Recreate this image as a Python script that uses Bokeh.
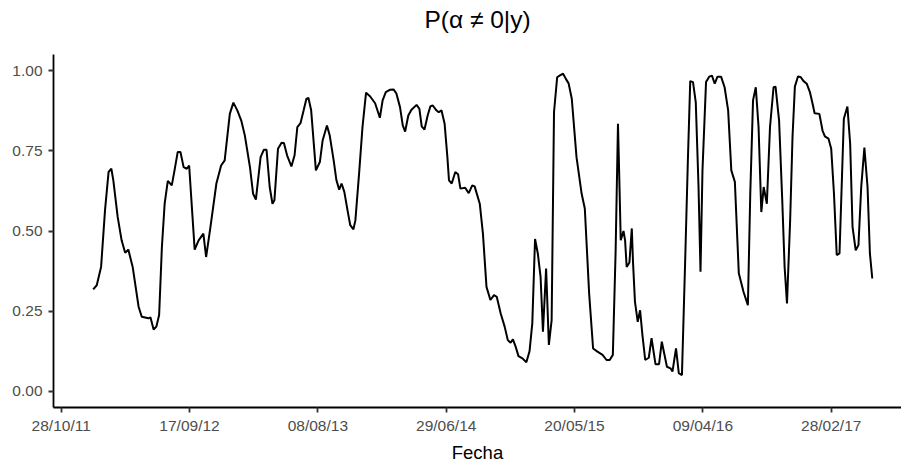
import pandas as pd
from datetime import datetime
from bokeh.plotting import figure
from bokeh.models import (Range1d, FixedTicker, DatetimeTickFormatter,
                          CustomJSTickFormatter, LinearAxis)
from bokeh.embed import file_html
from bokeh.resources import INLINE

# Dates (vertices of the series) and posterior probability P(alpha != 0 | y)
fechas = [
    "2012-01-17", "2012-01-26", "2012-02-06", "2012-02-16", "2012-02-25", "2012-03-03",
    "2012-03-08", "2012-03-19", "2012-03-29", "2012-04-07", "2012-04-15", "2012-04-26",
    "2012-05-11", "2012-05-19", "2012-06-05", "2012-06-10", "2012-06-18", "2012-06-25",
    "2012-07-02", "2012-07-09", "2012-07-16", "2012-07-24", "2012-08-03", "2012-08-10",
    "2012-08-18", "2012-08-25", "2012-09-02", "2012-09-10", "2012-09-16", "2012-09-30",
    "2012-10-10", "2012-10-22", "2012-10-29", "2012-11-09", "2012-11-24", "2012-12-06",
    "2012-12-15", "2012-12-28", "2013-01-06", "2013-01-16", "2013-01-26", "2013-02-04",
    "2013-02-17", "2013-02-25", "2013-03-04", "2013-03-16", "2013-03-24", "2013-03-31",
    "2013-04-08", "2013-04-15", "2013-04-20", "2013-04-29", "2013-05-08", "2013-05-14",
    "2013-05-22", "2013-06-02", "2013-06-10", "2013-06-17", "2013-06-25", "2013-07-03",
    "2013-07-10", "2013-07-15", "2013-07-22", "2013-08-03", "2013-08-13", "2013-08-20",
    "2013-08-31", "2013-09-07", "2013-09-17", "2013-09-24", "2013-10-01", "2013-10-07",
    "2013-10-14", "2013-10-22", "2013-10-29", "2013-11-06", "2013-11-11", "2013-11-21",
    "2013-11-29", "2013-12-08", "2013-12-18", "2013-12-31", "2014-01-12", "2014-01-19",
    "2014-01-27", "2014-02-06", "2014-02-16", "2014-02-23", "2014-03-04", "2014-03-11",
    "2014-03-17", "2014-03-25", "2014-04-02", "2014-04-15", "2014-04-22", "2014-04-28",
    "2014-05-05", "2014-05-13", "2014-05-20", "2014-05-26", "2014-06-04", "2014-06-10",
    "2014-06-17", "2014-06-25", "2014-07-02", "2014-07-06", "2014-07-13", "2014-07-22",
    "2014-07-29", "2014-08-04", "2014-08-16", "2014-08-25", "2014-09-03", "2014-09-09",
    "2014-09-22", "2014-09-30", "2014-10-09", "2014-10-19", "2014-10-28", "2014-11-04",
    "2014-11-14", "2014-11-24", "2014-12-02", "2014-12-09", "2014-12-15", "2014-12-22",
    "2014-12-29", "2015-01-08", "2015-01-18", "2015-01-26", "2015-02-02", "2015-02-09",
    "2015-02-16", "2015-02-23", "2015-03-01", "2015-03-09", "2015-03-16", "2015-03-23",
    "2015-03-29", "2015-04-06", "2015-04-13", "2015-04-21", "2015-04-28", "2015-05-05",
    "2015-05-13", "2015-05-25", "2015-06-07", "2015-06-15", "2015-06-26", "2015-07-06",
    "2015-07-17", "2015-07-30", "2015-08-09", "2015-08-17", "2015-08-25", "2015-09-01",
    "2015-09-07", "2015-09-11", "2015-09-14", "2015-09-21", "2015-09-25", "2015-09-29",
    "2015-10-06", "2015-10-12", "2015-10-15", "2015-10-20", "2015-10-27", "2015-11-02",
    "2015-11-08", "2015-11-15", "2015-11-24", "2015-12-01", "2015-12-11", "2015-12-20",
    "2015-12-27", "2016-01-09", "2016-01-18", "2016-01-23", "2016-02-01", "2016-02-08",
    "2016-02-16", "2016-02-24", "2016-03-02", "2016-03-08", "2016-03-15", "2016-03-22",
    "2016-03-29", "2016-04-03", "2016-04-08", "2016-04-17", "2016-04-25", "2016-05-02",
    "2016-05-09", "2016-05-16", "2016-05-25", "2016-06-03", "2016-06-12", "2016-06-20",
    "2016-06-29", "2016-07-09", "2016-07-21", "2016-08-01", "2016-08-07", "2016-08-14",
    "2016-08-21", "2016-08-28", "2016-09-04", "2016-09-10", "2016-09-18", "2016-09-26",
    "2016-10-05", "2016-10-10", "2016-10-19", "2016-10-27", "2016-11-02", "2016-11-08",
    "2016-11-16", "2016-11-22", "2016-11-28", "2016-12-06", "2016-12-13", "2016-12-20",
    "2016-12-28", "2017-01-05", "2017-01-11", "2017-01-17", "2017-01-29", "2017-02-06",
    "2017-02-12", "2017-02-21", "2017-02-28", "2017-03-07", "2017-03-14", "2017-03-21",
    "2017-03-27", "2017-04-01", "2017-04-10", "2017-04-17", "2017-04-23", "2017-05-01",
    "2017-05-08", "2017-05-15", "2017-05-23", "2017-05-31", "2017-06-06", "2017-06-12",
]
prob = [
    0.318, 0.331, 0.388, 0.565, 0.684, 0.694,
    0.658, 0.544, 0.471, 0.432, 0.442, 0.388,
    0.264, 0.233, 0.228, 0.231, 0.193, 0.202,
    0.238, 0.450, 0.585, 0.656, 0.642, 0.689,
    0.746, 0.746, 0.699, 0.694, 0.704, 0.442,
    0.471, 0.492, 0.419, 0.513, 0.648, 0.704,
    0.720, 0.865, 0.900, 0.876, 0.844, 0.798,
    0.699, 0.616, 0.598, 0.730, 0.753, 0.753,
    0.637, 0.585, 0.596, 0.756, 0.775, 0.774,
    0.736, 0.701, 0.736, 0.824, 0.836, 0.876,
    0.912, 0.915, 0.876, 0.689, 0.715, 0.782,
    0.829, 0.798, 0.720, 0.658, 0.629, 0.648,
    0.622, 0.565, 0.518, 0.505, 0.533, 0.689,
    0.824, 0.931, 0.920, 0.898, 0.853, 0.907,
    0.933, 0.940, 0.941, 0.928, 0.886, 0.829,
    0.810, 0.860, 0.878, 0.893, 0.881, 0.826,
    0.816, 0.860, 0.889, 0.891, 0.876, 0.870,
    0.876, 0.834, 0.730, 0.658, 0.648, 0.684,
    0.677, 0.632, 0.635, 0.618, 0.642, 0.639,
    0.585, 0.492, 0.326, 0.285, 0.300, 0.295,
    0.243, 0.202, 0.160, 0.152, 0.162, 0.139,
    0.110, 0.103, 0.091, 0.125, 0.212, 0.475,
    0.430, 0.357, 0.186, 0.383, 0.145, 0.222,
    0.870, 0.979, 0.985, 0.990, 0.974, 0.960,
    0.912, 0.730, 0.616, 0.570, 0.305, 0.134,
    0.124, 0.114, 0.098, 0.098, 0.114, 0.435,
    0.834, 0.630, 0.471, 0.500, 0.471, 0.388,
    0.402, 0.508, 0.405, 0.280, 0.217, 0.253,
    0.175, 0.098, 0.105, 0.166, 0.085, 0.085,
    0.155, 0.077, 0.072, 0.062, 0.134, 0.057,
    0.051, 0.400, 0.720, 0.967, 0.964, 0.901,
    0.637, 0.373, 0.689, 0.964, 0.981, 0.984,
    0.959, 0.981, 0.981, 0.948, 0.876, 0.689,
    0.653, 0.368, 0.310, 0.269, 0.616, 0.907,
    0.948, 0.824, 0.559, 0.637, 0.585, 0.824,
    0.948, 0.950, 0.844, 0.596, 0.388, 0.274,
    0.533, 0.793, 0.950, 0.982, 0.979, 0.967,
    0.959, 0.933, 0.901, 0.867, 0.865, 0.813,
    0.795, 0.788, 0.756, 0.616, 0.425, 0.430,
    0.658, 0.850, 0.888, 0.772, 0.513, 0.440,
    0.456, 0.637, 0.760, 0.637, 0.430, 0.352,
]

x_ticks = ["2011-10-28", "2012-09-17", "2013-08-08", "2014-06-29",
           "2015-05-20", "2016-04-09", "2017-02-28"]
y_ticks = [0.0, 0.25, 0.5, 0.75, 1.0]

titulo = "P(α ≠ 0|y)"
etiqueta_x = "Fecha"

x = pd.to_datetime(fechas)

p = figure(width=901, height=465, x_axis_type="datetime",
           output_backend="svg", toolbar_location=None,
           min_border_left=53, min_border_right=0,
           min_border_top=54, min_border_bottom=57)

p.x_range = Range1d(start=datetime(2011, 10, 8, 12), end=datetime(2017, 8, 25))
p.y_range = Range1d(start=-0.05, end=1.05)

p.line(x, prob, line_color="black", line_width=2)

p.xgrid.visible = False
p.ygrid.visible = False
p.outline_line_color = None
p.background_fill_color = "white"
p.border_fill_color = "white"

bottom_axis = p.below[0]
left_axis = p.left[0]

tick_ms = [pd.Timestamp(t).value // 10**6 for t in x_ticks]
bottom_axis.ticker = FixedTicker(ticks=tick_ms)
fmt = "%d/%m/%y"
bottom_axis.formatter = DatetimeTickFormatter(
    milliseconds=fmt, seconds=fmt, minsec=fmt, minutes=fmt, hourmin=fmt,
    hours=fmt, days=fmt, months=fmt, years=fmt)
left_axis.ticker = FixedTicker(ticks=y_ticks)
left_axis.formatter = CustomJSTickFormatter(code="return tick.toFixed(2);")

for ax in (bottom_axis, left_axis):
    ax.axis_line_color = "black"
    ax.axis_line_width = 1.8
    ax.major_tick_line_color = "#333333"
    ax.major_tick_line_width = 1.8
    ax.major_tick_out = 5
    ax.major_tick_in = 0
    ax.minor_tick_line_color = None
    ax.major_label_text_font = "Liberation Sans"
    ax.major_label_text_font_size = "15.5px"
    ax.major_label_text_color = "#4D4D4D"

left_axis.major_label_standoff = 6
bottom_axis.major_label_standoff = 4

bottom_axis.axis_label = etiqueta_x
bottom_axis.axis_label_text_font = "Liberation Sans"
bottom_axis.axis_label_text_font_size = "18.5px"
bottom_axis.axis_label_text_font_style = "normal"
bottom_axis.axis_label_text_color = "black"
bottom_axis.axis_label_standoff = 5

# title: an axis above the frame that shows only its label
title_axis = LinearAxis(ticker=FixedTicker(ticks=[]), axis_label=titulo,
                        axis_line_color=None, major_tick_line_color=None,
                        minor_tick_line_color=None, major_tick_out=0,
                        major_tick_in=0, major_label_standoff=0,
                        axis_label_text_font="Liberation Sans",
                        axis_label_text_font_size="24.5px",
                        axis_label_text_font_style="normal",
                        axis_label_text_color="black",
                        axis_label_standoff=22)
p.add_layout(title_axis, "above")

open("out.html", "w").write(file_html(p, INLINE))
